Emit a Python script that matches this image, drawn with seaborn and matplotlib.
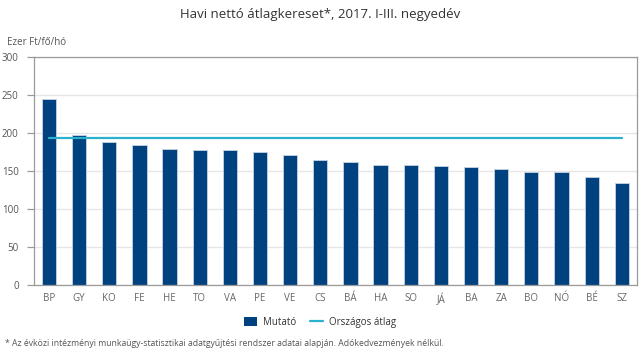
import pandas as pd
import seaborn as sns
import matplotlib.pyplot as plt
from matplotlib.patches import Patch
from matplotlib.lines import Line2D

# megyék rövidítései és a havi nettó átlagkereset (ezer Ft/fő/hó)
megyek = ["BP", "GY", "KO", "FE", "HE", "TO", "VA", "PE", "VE", "CS",
          "BÁ", "HA", "SO", "JÁ", "BA", "ZA", "BO", "NÓ", "BÉ", "SZ"]
mutato = [244.5, 197.5, 187.5, 184.5, 178.5, 177.0, 177.0, 175.0, 171.0, 164.5,
          161.5, 157.5, 157.5, 156.5, 155.5, 152.0, 149.0, 148.0, 142.0, 133.5]
orszagos_atlag = 193.5
y_ticks = [0, 50, 100, 150, 200, 250, 300]

BAR_COLOR = "#00427f"
LINE_COLOR = "#2bb1cd"
TEXT_COLOR = "#555555"
AXIS_COLOR = "#9a9a9a"


def create_plot():
    sns.set_style("white")
    plt.rcParams["font.family"] = ["Open Sans", "DejaVu Sans"]

    df = pd.DataFrame({"megye": megyek, "mutato": mutato,
                       "atlag": [orszagos_atlag] * len(megyek)})

    fig = plt.figure(figsize=(6.4, 3.51), dpi=100)
    ax = fig.add_axes([0.053, 0.188, 0.942, 0.650])

    sns.barplot(data=df, x="megye", y="mutato", color=BAR_COLOR, saturation=1,
                width=0.47, edgecolor="#c8d4e3", linewidth=0.6, ax=ax, zorder=2)
    sns.lineplot(data=df, x="megye", y="atlag", color=LINE_COLOR, linewidth=1.6,
                 ax=ax, zorder=3)

    ax.set_xlim(-0.5, len(megyek) - 0.5)
    ax.set_ylim(0, 300)
    ax.set_yticks(y_ticks)
    ax.set_xlabel("")
    ax.set_ylabel("")

    ax.yaxis.grid(True, color="#e6e6e6", linewidth=1, zorder=0)
    ax.set_axisbelow(True)
    for side in ["top", "right", "left", "bottom"]:
        ax.spines[side].set_visible(True)
        ax.spines[side].set_color(AXIS_COLOR)
        ax.spines[side].set_linewidth(0.9)

    ax.set_xticks([i + 0.5 for i in range(-1, len(megyek))], minor=True)
    ax.tick_params(axis="x", which="major", length=0, pad=6, labelsize=7, labelcolor="#666666")
    ax.tick_params(axis="x", which="minor", length=5, width=0.9, color=AXIS_COLOR, direction="out")
    ax.tick_params(axis="y", length=5, width=0.9, color=AXIS_COLOR, direction="out",
                   labelsize=7, labelcolor=TEXT_COLOR, pad=6)
    ax.tick_params(bottom=True, left=True)

    fig.text(0.5, 0.958, "Havi nettó átlagkereset*, 2017. I-III. negyedév",
             ha="center", va="center", fontsize=9.5, color="#333333")
    fig.text(0.011, 0.880, "Ezer Ft/fő/hó", ha="left", va="center",
             fontsize=7, color=TEXT_COLOR)
    fig.text(0.008, 0.020, "* Az évközi intézményi munkaügy-statisztikai adatgyűjtési rendszer "
             "adatai alapján. Adókedvezmények nélkül.", ha="left", va="center",
             fontsize=6.2, color=TEXT_COLOR)

    handles = [Patch(facecolor=BAR_COLOR, edgecolor="none"),
               Line2D([0], [0], color=LINE_COLOR, linewidth=1.6)]
    fig.legend(handles, ["Mutató", "Országos átlag"], loc="center",
               bbox_to_anchor=(0.5, 0.081), ncol=2, frameon=False, fontsize=7,
               labelcolor="#333333", handlelength=1.3, handleheight=1.1,
               columnspacing=1.5, handletextpad=0.6)

    fig.savefig("out.png", dpi=100)
    plt.close(fig)


def main():
    create_plot()


if __name__ == "__main__":
    main()
